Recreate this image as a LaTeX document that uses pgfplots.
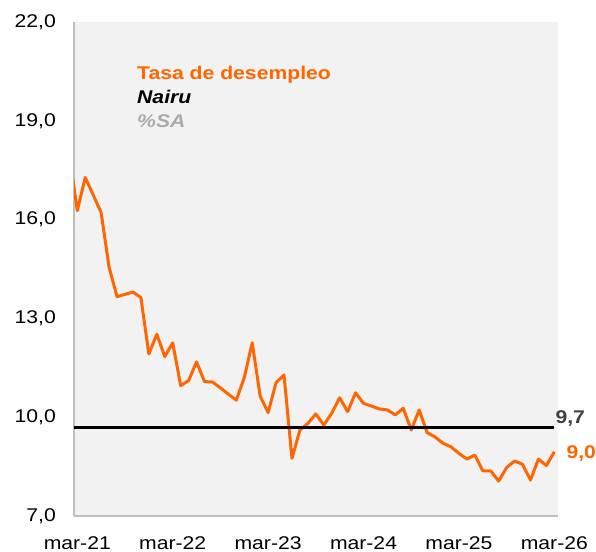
\documentclass[border=0pt]{standalone}
\usepackage{fontspec}
\setmainfont{Liberation Sans}[FakeStretch=1.15]
\usepackage{pgfplots}
\pgfplotsset{compat=1.18}
\definecolor{orng}{RGB}{255,102,0}
\definecolor{bgg}{RGB}{242,242,242}
\definecolor{axg}{RGB}{191,191,191}
\definecolor{sag}{RGB}{170,170,170}
\definecolor{dg}{RGB}{64,64,64}
\begin{document}
\fontsize{18.4bp}{22bp}\selectfont
\begin{tikzpicture}
\useasboundingbox (-74bp,-36bp) rectangle (522bp,516bp);
\begin{axis}[
  at={(0,0)}, anchor=south west,
  scale only axis, width=484bp, height=494bp,
  xmin=-0.415, xmax=60.46, ymin=7, ymax=22,
  ytick={7,10,13,16,19,22},
  xtick={0,12,24,36,48,60},
  xticklabels={mar-21,mar-22,mar-23,mar-24,mar-25,mar-26},
  axis lines*=left,
  axis line style={draw=axg, line width=1.2bp, -},
  major tick length=0pt, tick style={draw=none},
  axis background/.style={fill=bgg},
  /pgf/number format/assume math mode=true,
  /pgf/number format/fixed,
  /pgf/number format/fixed zerofill,
  /pgf/number format/precision=1,
  /pgf/number format/use comma,
  every tick label/.append style={font=\fontsize{18.4bp}{22bp}\selectfont, text=black},
  yticklabel style={anchor=east, inner sep=0pt, xshift=-18bp},
  xticklabel style={anchor=north, inner sep=0pt, yshift=-20.5bp},
  clip mode=individual,
]
\addplot[orng, line width=3bp, line join=round] coordinates {
(-1,18.0) (0,16.27) (1,17.28) (2,16.75) (3,16.21) (4,14.55) (5,13.66) (6,13.73)
(7,13.80) (8,13.63) (9,11.92) (10,12.52) (11,11.84) (12,12.26) (13,10.96) (14,11.11)
(15,11.68) (16,11.08) (17,11.07) (18,10.89) (19,10.70) (20,10.52) (21,11.20) (22,12.26)
(23,10.64) (24,10.14) (25,11.05) (26,11.28) (27,8.75) (28,9.61) (29,9.81) (30,10.10)
(31,9.76) (32,10.12) (33,10.59) (34,10.17) (35,10.74) (36,10.42) (37,10.34) (38,10.25)
(39,10.22) (40,10.07) (41,10.27) (42,9.61) (43,10.22) (44,9.53) (45,9.40) (46,9.21)
(47,9.10) (48,8.90) (49,8.73) (50,8.85) (51,8.37) (52,8.37) (53,8.06) (54,8.47)
(55,8.67) (56,8.57) (57,8.09) (58,8.73) (59,8.53) (60,8.95)
};
\addplot[black, line width=3bp] coordinates {(-0.415,9.7) (60,9.7)};
\node[anchor=base west, inner sep=0pt, text=orng, font=\fontsize{18.4bp}{22bp}\selectfont\bfseries] at (axis cs:7.51,20.26) {Tasa de desempleo};
\node[anchor=base west, inner sep=0pt, text=black, font=\fontsize{18.4bp}{22bp}\selectfont\bfseries\itshape] at (axis cs:7.51,19.53) {Nairu};
\node[anchor=base west, inner sep=0pt, text=sag, font=\fontsize{18.4bp}{22bp}\selectfont\bfseries\itshape] at (axis cs:7.51,18.79) {\%SA};
\node[anchor=base west, inner sep=0pt, text=dg, font=\fontsize{18.4bp}{22bp}\selectfont\bfseries, xshift=1bp, yshift=4bp] at (axis cs:60,9.7) {9,7};
\node[anchor=base west, inner sep=0pt, text=orng, font=\fontsize{18.4bp}{22bp}\selectfont\bfseries, xshift=12bp, yshift=-6.6bp] at (axis cs:60,8.95) {9,0};
\end{axis}
\end{tikzpicture}
\end{document}
